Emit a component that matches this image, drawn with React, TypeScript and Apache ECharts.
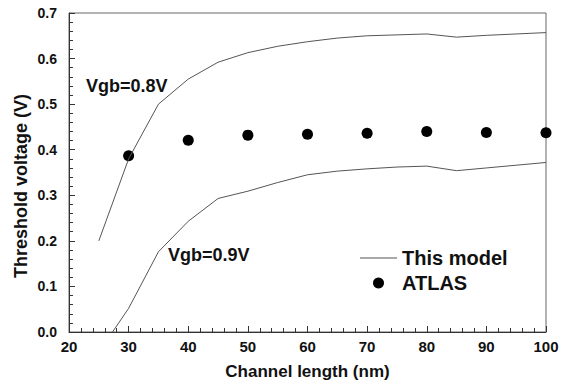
import React, { useEffect, useRef } from "react";
import * as echarts from "echarts";

const upperX = [25, 30, 35, 40, 45, 50, 55, 60, 65, 70, 75, 80, 85, 90, 95, 100];
const upperY = [0.2, 0.38, 0.5, 0.555, 0.592, 0.613, 0.627, 0.637, 0.645, 0.65, 0.652, 0.654, 0.647, 0.651, 0.654, 0.657];
const lowerX = [27.3, 30, 35, 40, 45, 50, 55, 60, 65, 70, 75, 80, 85, 90, 95, 100];
const lowerY = [0, 0.052, 0.176, 0.243, 0.293, 0.309, 0.328, 0.345, 0.353, 0.358, 0.362, 0.364, 0.354, 0.36, 0.366, 0.372];
const atlasX = [30, 40, 50, 60, 70, 80, 90, 100];
const atlasY = [0.387, 0.421, 0.432, 0.434, 0.436, 0.44, 0.438, 0.437];
const curveLabels = ["Vgb=0.8V", "Vgb=0.9V"];

const FONT = "'Liberation Sans', Arial, sans-serif";

export default function App() {
  const ref = useRef<HTMLDivElement>(null);
  useEffect(() => {
    if (!ref.current) return;
    const chart = echarts.init(ref.current, null, { renderer: "svg" });
    const pair = (xs: number[], ys: number[]) => xs.map((x, i) => [x, ys[i]]);
    const lineStyle = { color: "#555", width: 1 };
    chart.setOption({
      animation: false,
      backgroundColor: "#fff",
      textStyle: { fontFamily: FONT },
      grid: { left: 69, right: 20, top: 13, bottom: 53, show: true, borderColor: "#666", borderWidth: 1 },
      xAxis: {
        type: "value",
        min: 20,
        max: 100,
        interval: 10,
        name: "Channel length (nm)",
        nameLocation: "middle",
        nameGap: 31,
        nameTextStyle: { fontSize: 17, fontWeight: "bold", color: "#111", fontFamily: FONT },
        axisLine: { show: true, lineStyle: { color: "#333", width: 1 } },
        axisTick: { show: true, inside: true, length: 6, lineStyle: { color: "#333" } },
        minorTick: { show: true, splitNumber: 5, length: 4, lineStyle: { color: "#333" } },
        splitLine: { show: false },
        axisLabel: { fontSize: 15, fontWeight: "bold", color: "#111", margin: 7, fontFamily: FONT },
      },
      yAxis: {
        type: "value",
        min: 0,
        max: 0.7,
        interval: 0.1,
        axisLine: { show: true, lineStyle: { color: "#333", width: 1 } },
        axisTick: { show: true, inside: true, length: 6, lineStyle: { color: "#333" } },
        minorTick: { show: true, splitNumber: 5, length: 4, lineStyle: { color: "#333" } },
        splitLine: { show: false },
        axisLabel: {
          fontSize: 14,
          fontWeight: "bold",
          color: "#111",
          margin: 12,
          fontFamily: FONT,
          formatter: (v: number) => v.toFixed(1),
        },
      },
      legend: {
        orient: "vertical",
        left: 355,
        top: 243,
        itemWidth: 37,
        itemHeight: 11,
        itemGap: 5,
        data: [
          { name: "This model", icon: "path://M0 0 H37 V1 H0 Z", itemStyle: { color: "#555", borderWidth: 0 } },
          { name: "ATLAS", icon: "circle", itemStyle: { color: "#000", opacity: 1 } },
        ],
        textStyle: { fontSize: 20, fontWeight: "bold", color: "#111", fontFamily: FONT },
      },
      graphic: [
        {
          type: "text",
          left: 86,
          top: 77,
          style: { text: curveLabels[0], fontSize: 18, fontWeight: "bold", fill: "#111", fontFamily: FONT },
        },
        {
          type: "text",
          left: 168,
          top: 246,
          style: { text: curveLabels[1], fontSize: 18, fontWeight: "bold", fill: "#111", fontFamily: FONT },
        },
        {
          type: "text",
          x: 21,
          y: 186,
          rotation: Math.PI / 2,
          style: {
            text: "Threshold voltage (V)",
            fontSize: 18,
            fontWeight: "bold",
            fill: "#111",
            fontFamily: FONT,
            align: "center",
            verticalAlign: "middle",
          },
        },
      ],
      series: [
        {
          name: "This model",
          type: "line",
          data: pair(upperX, upperY),
          symbol: "none",
          lineStyle,
          itemStyle: { color: "#555" },
        },
        {
          name: "This model",
          type: "line",
          data: pair(lowerX, lowerY),
          symbol: "none",
          lineStyle,
          itemStyle: { color: "#555" },
        },
        {
          name: "ATLAS",
          type: "scatter",
          data: pair(atlasX, atlasY),
          symbol: "circle",
          symbolSize: 11,
          itemStyle: { color: "#000", opacity: 1 },
        },
      ],
    });
    return () => chart.dispose();
  }, []);
  return (
    <div
      ref={ref}
      style={{ position: "fixed", left: 0, top: 0, width: 566, height: 385, background: "#fff" }}
    />
  );
}
